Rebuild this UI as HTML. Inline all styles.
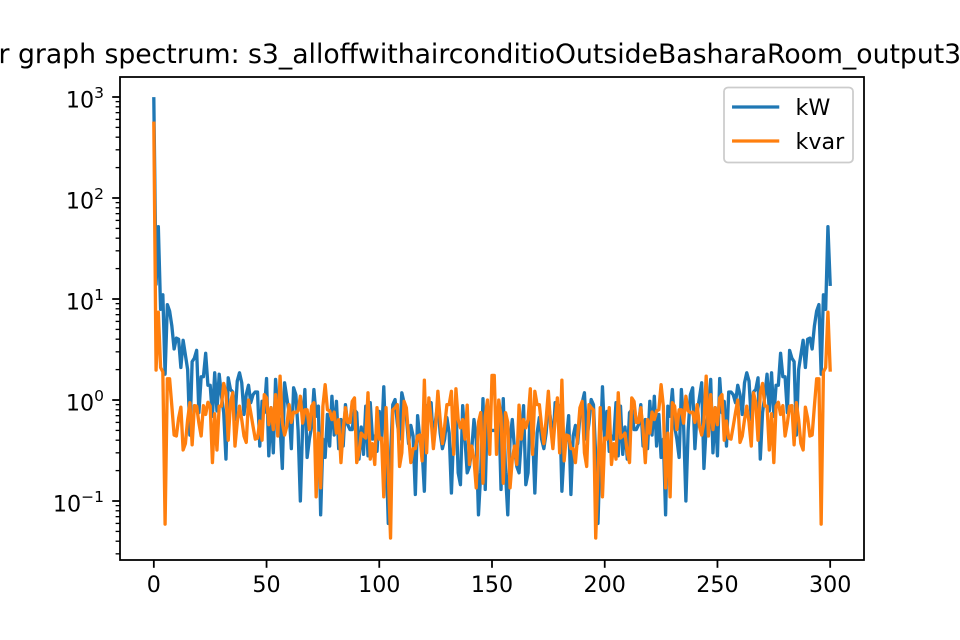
<!DOCTYPE html>
<html lang="en">
<head>
<meta charset="utf-8">
<title>Power graph spectrum</title>
<style>
html,body{margin:0;padding:0;background:#fff;width:960px;height:640px;overflow:hidden}
svg{display:block;font-family:"DejaVu Sans","Liberation Sans",sans-serif;fill:#000}
</style>
</head>
<body>
<svg id="chart" xmlns="http://www.w3.org/2000/svg" width="960" height="640" viewBox="0 0 960 640">
  <defs><clipPath id="plot-clip"><rect x="120" y="77" width="744" height="483"/></clipPath></defs>
  <rect x="0" y="0" width="960" height="640" fill="#fff"/>
  <g id="series" clip-path="url(#plot-clip)"></g>
  <g id="ticks"></g>
  <rect x="120" y="77" width="744" height="483" fill="none" stroke="#000" stroke-width="1.78"/>
  <text x="445" y="63" font-size="26.67" text-anchor="middle">Power graph spectrum: s3_alloffwithairconditioOutsideBasharaRoom_output3</text>
  <g>
    <rect x="724" y="87.5" width="129" height="75" rx="4" fill="#fff" fill-opacity="0.8" stroke="#ccc" stroke-width="1.78"/>
    <line x1="733.7" x2="777.6" y1="107" y2="107" stroke="#1f77b4" stroke-width="3.33" stroke-linecap="square"/>
    <text x="795.5" y="115" font-size="22.2">kW</text>
    <line x1="733.7" x2="777.6" y1="141" y2="141" stroke="#ff7f0e" stroke-width="3.33" stroke-linecap="square"/>
    <text x="795.5" y="149" font-size="22.2">kvar</text>
  </g>
</svg>
<script>
const kW = [
960,14,52,7.9,11,1.8,8.8,7.6,5.4,3.2,
4.1,4,2.1,3.9,2.8,2,.45,2.4,2.6,3.1,
.75,1.7,1.7,2.9,1.4,1.4,.69,1.86,.78,1.8,
1.1,.75,.26,1.66,1.27,1.2,.64,1.54,1.86,1.48,
.72,1.13,1.4,.94,1.13,1.2,1.2,.35,.97,.75,
1.63,.28,.84,.3,1.6,.75,.55,.21,1.48,1.05,
.75,.33,1.32,1.13,.5,.1,.55,1.27,.27,.41,
.55,1.27,.69,.87,.073,.41,.27,.72,.35,1.09,
.45,.97,.33,.64,.35,.9,.57,.51,.51,.8,
.75,.26,.54,.29,.87,.28,.94,.41,.44,.31,
.77,.41,1.35,.32,.06,.28,.9,1.01,.59,.41,
1.18,.94,.69,.37,.56,.44,.116,.7,.41,.32,
.125,.87,.9,.94,.35,.64,.94,.47,.33,.41,
.67,.47,.12,.47,.87,.19,.145,.88,.41,.19,
.22,.32,.64,.41,.073,.19,1.03,.13,.87,.5,
.5,
.5,.5,.87,.13,1.03,.19,.073,.41,.64,.32,
.22,.19,.41,.88,.145,.19,.87,.47,.12,.47,
.67,.41,.33,.47,.94,.64,.35,.94,.9,.87,
.125,.32,.41,.7,.116,.44,.56,.37,.69,.94,
1.18,.41,.59,1.01,.9,.28,.06,.32,1.35,.41,
.77,.31,.44,.41,.94,.28,.87,.29,.54,.26,
.75,.8,.51,.51,.57,.9,.35,.64,.33,.97,
.45,1.09,.35,.72,.27,.41,.073,.87,.69,1.27,
.55,.41,.27,1.27,.55,.1,.5,1.13,1.32,.33,
.75,1.05,1.48,.21,.55,.75,1.6,.3,.84,.28,
1.63,.75,.97,.35,1.2,1.2,1.13,.94,1.4,1.13,
.72,1.48,1.86,1.54,.64,1.2,1.27,1.66,.26,.75,
1.1,1.8,.78,1.86,.69,1.4,1.4,2.9,1.7,1.7,
.75,3.1,2.6,2.4,.45,2,2.8,3.9,2.1,4,
4.1,3.2,5.4,7.6,8.8,1.8,11,7.9,52,14
];
const kvar = [
550,1.98,7.4,2.1,1.9,.059,1.62,1.62,.87,.45,
.44,.66,.85,.32,.37,.64,.94,.36,.88,.87,
.59,.44,.88,.72,.95,.87,.24,.73,.32,.87,
.87,1.46,1.18,.4,.94,1.18,.35,.6,.87,.64,
.44,.38,1,.75,.55,.41,.42,.62,.4,1.13,
1.05,.57,.84,.51,1.13,.44,1.72,.6,.45,.55,
.9,.6,.76,.75,.78,1.09,.59,.8,.8,.51,
.87,.94,.11,.47,.135,.87,1.42,.8,.78,.64,
.76,.47,.64,.24,.51,.84,.6,.6,.97,1.05,
.24,.3,.47,.44,.42,1.18,.26,.37,.23,.84,
.41,.42,.11,.84,.19,.043,.8,.84,.9,.22,
.3,.97,.84,.44,.24,.33,.33,.44,.45,.25,
1.57,.3,1.05,.64,.33,.55,1.22,.64,.37,.55,
.9,.9,1.22,.29,1.29,.64,.53,.64,.41,.89,
.23,.35,.26,.135,.6,.75,.15,.69,1,.29,
1.75,
1.75,.29,1,.69,.15,.75,.6,.135,.26,.35,
.23,.89,.41,.64,.53,.64,1.29,.29,1.22,.9,
.9,.55,.37,.64,1.22,.55,.33,.64,1.05,.3,
1.57,.25,.45,.44,.33,.33,.24,.44,.84,.97,
.3,.22,.9,.84,.8,.043,.19,.84,.11,.42,
.41,.84,.23,.37,.26,1.18,.42,.44,.47,.3,
.24,1.05,.97,.6,.6,.84,.51,.24,.64,.47,
.76,.64,.78,.8,1.42,.87,.135,.47,.11,.94,
.87,.51,.8,.8,.59,1.09,.78,.75,.76,.6,
.9,.55,.45,.6,1.72,.44,1.13,.51,.84,.57,
1.05,1.13,.4,.62,.42,.41,.55,.75,1,.38,
.44,.64,.87,.6,.35,1.18,.94,.4,1.18,1.46,
.87,.87,.32,.73,.24,.87,.95,.72,.88,.44,
.59,.87,.88,.36,.94,.64,.37,.32,.85,.66,
.44,.45,.87,1.62,1.62,.059,1.9,2.1,7.4,1.98
];
const xTickLabels = [0, 50, 100, 150, 200, 250, 300];
const yTickExponents = [-1, 0, 1, 2, 3];

const NS = 'http://www.w3.org/2000/svg';
const plotLeft = 120, plotRight = 864, plotTop = 77, plotBottom = 560;
const xMin = -15, xMax = 315, logMin = -1.584, logMax = 3.198;

function xScale(v) {
  return plotLeft + (v - xMin) / (xMax - xMin) * (plotRight - plotLeft);
}
function yScale(v) {
  return plotBottom - (Math.log10(v) - logMin) / (logMax - logMin) * (plotBottom - plotTop);
}
function makeTick(x1, y1, x2, y2) {
  const t = document.createElementNS(NS, 'line');
  t.setAttribute('x1', x1);
  t.setAttribute('y1', y1);
  t.setAttribute('x2', x2);
  t.setAttribute('y2', y2);
  t.setAttribute('stroke', '#000');
  t.setAttribute('stroke-width', '1.78');
  return t;
}
function drawSeries(values, color, name) {
  const p = document.createElementNS(NS, 'path');
  const d = values.map(function (v, i) {
    return (i ? 'L' : 'M') + xScale(i).toFixed(2) + ' ' + yScale(v).toFixed(2);
  }).join('');
  p.setAttribute('d', d);
  p.setAttribute('fill', 'none');
  p.setAttribute('stroke', color);
  p.setAttribute('stroke-width', '3.33');
  p.setAttribute('stroke-linejoin', 'round');
  p.setAttribute('stroke-linecap', 'square');
  
  
  document.getElementById('series').appendChild(p);
}
drawSeries(kW, '#1f77b4', 'series-kw');
drawSeries(kvar, '#ff7f0e', 'series-kvar');

const tickGroup = document.getElementById('ticks');

xTickLabels.forEach(function (v) {
  const x = xScale(v);
  const tick = makeTick(x, plotBottom, x, plotBottom + 7.8);
  
  
  tickGroup.appendChild(tick);
  const label = document.createElementNS(NS, 'text');
  label.setAttribute('x', x);
  label.setAttribute('y', 592);
  label.setAttribute('font-size', '22.2');
  label.setAttribute('text-anchor', 'middle');
  label.textContent = String(v);
  
  
  tickGroup.appendChild(label);
});

yTickExponents.forEach(function (e) {
  const y = yScale(Math.pow(10, e));
  const tick = makeTick(plotLeft, y, plotLeft - 7.8, y);
  
  
  tickGroup.appendChild(tick);
  const label = document.createElementNS(NS, 'text');
  label.setAttribute('x', 104);
  label.setAttribute('y', y + 10.5);
  label.setAttribute('font-size', '22.2');
  label.setAttribute('text-anchor', 'end');
  
  
  const base = document.createElementNS(NS, 'tspan');
  base.textContent = '10';
  const sup = document.createElementNS(NS, 'tspan');
  sup.setAttribute('dy', '-9.5');
  sup.setAttribute('font-size', '15.5');
  sup.textContent = String(e).replace('-', '\u2212');
  label.appendChild(base);
  label.appendChild(sup);
  tickGroup.appendChild(label);
});

for (let e = Math.floor(logMin); e < Math.ceil(logMax); e++) {
  for (let m = 2; m < 10; m++) {
    const lv = e + Math.log10(m);
    if (lv < logMin || lv > logMax) continue;
    const y = yScale(Math.pow(10, lv));
    const minor = makeTick(plotLeft, y, plotLeft - 4.4, y);
    minor.setAttribute('stroke-width', '1.33');
    
    
    tickGroup.appendChild(minor);
  }
}
</script>
</body>
</html>
